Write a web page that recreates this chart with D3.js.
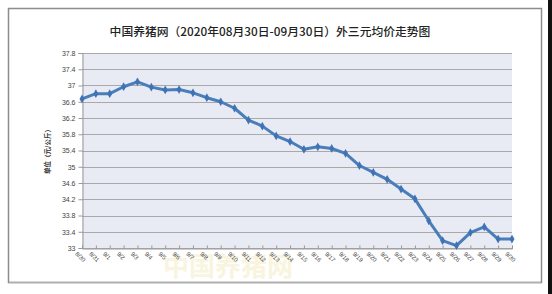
<!DOCTYPE html>
<html><head><meta charset="utf-8">
<script src="https://cdn.jsdelivr.net/npm/d3@7/dist/d3.min.js"></script>
<style>
html,body{margin:0;padding:0;background:#fff;}
svg{display:block;}
</style></head>
<body>
<script>
const titleText = "中国养猪网（2020年08月30日-09月30日）外三元均价走势图";
const yTitle = "单位（元/公斤）";
const watermarkText = "中国养猪网";
const categories = ["8/30","8/31","9/1","9/2","9/3","9/4","9/5","9/6","9/7","9/8","9/9","9/10","9/11","9/12","9/13","9/14","9/15","9/16","9/17","9/18","9/19","9/20","9/21","9/22","9/23","9/24","9/25","9/26","9/27","9/28","9/29","9/30"];
const prices = [36.67,36.80,36.80,36.97,37.09,36.96,36.89,36.90,36.82,36.70,36.60,36.44,36.15,36.00,35.76,35.62,35.43,35.49,35.45,35.33,35.03,34.86,34.69,34.45,34.21,33.67,33.18,33.06,33.38,33.52,33.22,33.22];
const yTicks = [33,33.4,33.8,34.2,34.6,35,35.4,35.8,36.2,36.6,37,37.4,37.8];

const W = 552, H = 294;
const svg = d3.select("body").append("svg").attr("width", W).attr("height", H);

// outer frame
svg.append("rect").attr("x", 548).attr("y", 0).attr("width", 4).attr("height", H).attr("fill", "#111");
svg.append("rect").attr("x", 8.5).attr("y", 8.5).attr("width", 533).attr("height", 274)
  .attr("fill", "#fff").attr("stroke", "#8c8c8c").attr("stroke-width", 1.5);
svg.append("line").attr("x1", 9).attr("x2", 541).attr("y1", 282.5).attr("y2", 282.5).attr("stroke", "#b0b0b0").attr("stroke-width", 1.5);

// watermark
svg.append("text").attr("x", 228).attr("y", 276).attr("text-anchor", "middle")
  .attr("font-family", "Noto Sans CJK SC").attr("font-weight", 700).attr("font-size", 26)
  .attr("fill", "#f3e7b8").attr("opacity", 0.45).text(watermarkText);

const m = {left: 82, right: 512, top: 53, bottom: 248};
const x = d3.scalePoint().domain(categories).range([m.left, m.right]).padding(0);
const y = d3.scaleLinear().domain([33, 37.8]).range([m.bottom, m.top]);

// plot background
svg.append("rect").attr("x", m.left).attr("y", m.top).attr("width", m.right - m.left).attr("height", m.bottom - m.top)
  .attr("fill", "#e9ebf4");

// gridlines
svg.append("g").selectAll("line").data(yTicks).join("line")
  .attr("x1", m.left).attr("x2", m.right)
  .attr("y1", d => Math.round(y(d)) + 0.5).attr("y2", d => Math.round(y(d)) + 0.5)
  .attr("stroke", "#a9a9a9").attr("stroke-width", 1);

// y axis
const yAxis = svg.append("g").attr("transform", `translate(${m.left + 0.5},0)`)
  .call(d3.axisLeft(y).tickValues(yTicks).tickFormat(d => String(+d.toFixed(1))).tickSize(4).tickPadding(3));
yAxis.select(".domain").attr("stroke", "#999");
yAxis.selectAll(".tick line").attr("stroke", "#999");
yAxis.selectAll("text").attr("font-family", "Liberation Sans, Arial").attr("font-size", 7).attr("fill", "#444");

// x axis
const xAxis = svg.append("g").attr("transform", `translate(0,${m.bottom + 0.5})`)
  .call(d3.axisBottom(x).tickSize(-3).tickPadding(4));
xAxis.select(".domain").attr("stroke", "#999");
xAxis.selectAll(".tick line").attr("stroke", "#999");
xAxis.selectAll("text")
  .attr("font-family", "Liberation Sans, Arial").attr("font-size", 6).attr("fill", "#444")
  .attr("text-anchor", "start").attr("dy", "0.2em")
  .attr("transform", "translate(-4,2) rotate(45)");

// line
svg.append("path").datum(prices)
  .attr("d", d3.line().x((d, i) => x(categories[i])).y(d => y(d)))
  .attr("fill", "none").attr("stroke", "#4a7ebb").attr("stroke-width", 3).attr("stroke-linejoin", "round");

// diamond markers
svg.append("g").selectAll("path").data(prices).join("path")
  .attr("d", d3.symbol().type(d3.symbolDiamond).size(22))
  .attr("transform", (d, i) => `translate(${x(categories[i])},${y(d)})`)
  .attr("fill", "#3f73b3");

// title
svg.append("text").attr("x", 270).attr("y", 36).attr("text-anchor", "middle")
  .attr("font-family", "Noto Sans CJK SC").attr("font-size", 11.8).attr("font-weight", 500).attr("fill", "#222")
  .text(titleText);

// y title
svg.append("text").attr("transform", "translate(50,150) rotate(-90)").attr("text-anchor", "middle")
  .attr("font-family", "Noto Sans CJK SC").attr("font-size", 6.5).attr("font-weight", 700).attr("fill", "#333")
  .text(yTitle);
</script>
</body></html>
